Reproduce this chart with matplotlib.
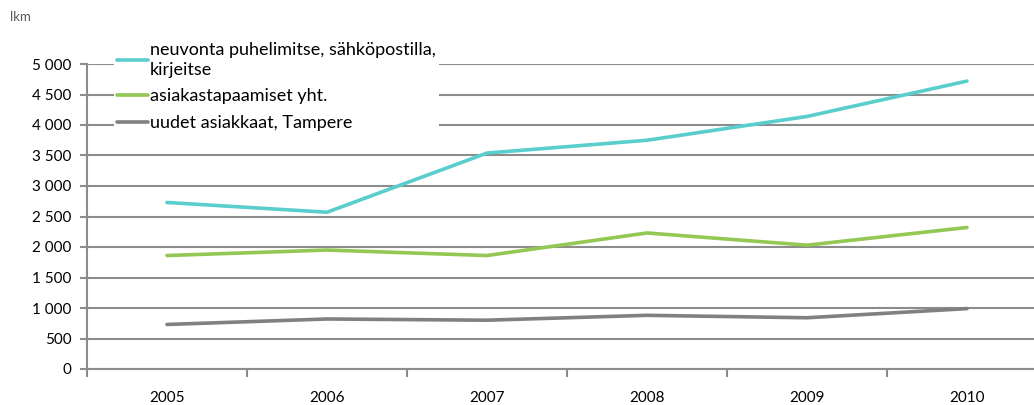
import matplotlib
matplotlib.use("Agg")
import matplotlib.pyplot as plt
import matplotlib.ticker as ticker
import numpy as np

years = ["2005", "2006", "2007", "2008", "2009", "2010"]
neuvonta = [2730, 2570, 3540, 3750, 4140, 4720]
tapaamiset = [1860, 1950, 1860, 2230, 2030, 2320]
uudet = [730, 820, 800, 880, 840, 990]

plt.rcParams['font.family'] = ['Lato', 'DejaVu Sans']
plt.rcParams['font.size'] = 11

fig = plt.figure(figsize=(10.34, 4.05), dpi=100)
ax = fig.add_axes([87 / 1034, 36 / 405, 960 / 1034, 305 / 405])

x = np.arange(len(years))
ax.plot(x, neuvonta, color='#5ACDCD', linewidth=2.6, label='neuvonta puhelimitse, sähköpostilla,\nkirjeitse', solid_capstyle='round')
ax.plot(x, tapaamiset, color='#92C853', linewidth=2.6, label='asiakastapaamiset yht.', solid_capstyle='round')
ax.plot(x, uudet, color='#808080', linewidth=2.6, label='uudet asiakkaat, Tampere', solid_capstyle='round')

ax.set_xlim(-0.5, 5.5)
ax.set_ylim(0, 5000)
ax.set_yticks(np.arange(0, 5001, 500))
ax.yaxis.set_major_formatter(ticker.FuncFormatter(lambda v, p: f"{int(v):,}".replace(",", " ")))
ax.set_xticks(x)
ax.set_xticklabels(years)
ax.set_xticks(np.arange(-0.5, 6, 1), minor=True)
ax.tick_params(axis='x', which='major', length=0, pad=16)
ax.tick_params(axis='x', which='minor', length=6, width=1.5, color='#8C8C8C')
ax.tick_params(axis='y', length=5, width=1.5, color='#8C8C8C', pad=6)

ax.grid(axis='y', color='#8C8C8C', linewidth=1.5)
ax.set_axisbelow(True)
for s in ['top', 'right']:
    ax.spines[s].set_visible(False)
for s in ['left', 'bottom']:
    ax.spines[s].set_color('#8C8C8C')
    ax.spines[s].set_linewidth(1.5)

fig.text(10 / 1034, 1 - 17 / 405, 'lkm', color='#595959', fontsize=9.5, va='center')

leg = ax.legend(loc='upper left', bbox_to_anchor=(0.028, 1.085), frameon=True, edgecolor='none',
                facecolor='white', framealpha=1, handlelength=1.7, handletextpad=0.1,
                labelspacing=0.6, borderaxespad=0, borderpad=0.2, fontsize=13)
leg.get_texts()[0].set_linespacing(1.3)

fig.savefig("out.png", dpi=100)
